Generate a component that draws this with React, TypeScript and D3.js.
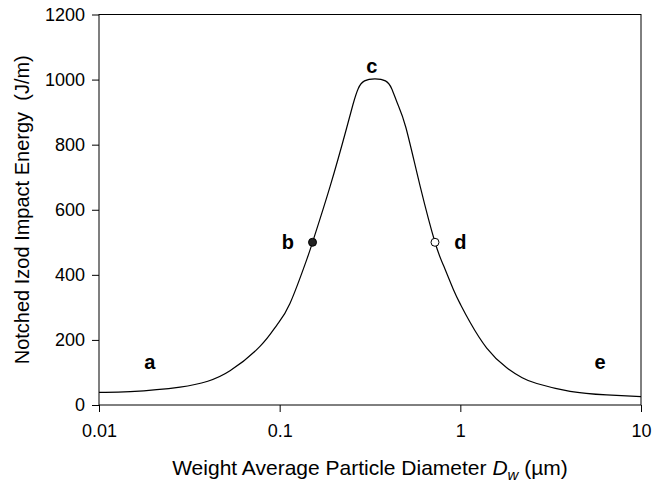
import { useEffect, useRef } from 'react';
import {
  select,
  scaleLog,
  scaleLinear,
  axisLeft,
  axisBottom,
  line,
  curveNatural,
} from 'd3';

// particle diameter (um)
const diameters = [
  0.01, 0.0149, 0.0281, 0.04, 0.0531, 0.0778, 0.0963, 0.114, 0.141, 0.152,
  0.19, 0.235, 0.255, 0.272, 0.295, 0.337, 0.385, 0.417, 0.45, 0.5, 0.6,
  0.724, 0.805, 0.915, 1.0, 1.13, 1.4, 1.8, 2.2, 2.65, 4.05, 6.46, 10,
];
// notched izod impact energy (J/m)
const energies = [
  39, 41, 55, 73, 105, 180, 245, 312, 446, 500, 671, 852, 925, 972, 996, 1002,
  996, 972, 925, 852, 671, 500, 430, 355, 310, 255, 175, 115, 84, 66, 42, 31,
  26,
];

const markedPoints = [
  { x: 0.152, y: 500, filled: true },
  { x: 0.724, y: 500, filled: false },
];

const letterLabels = [
  { text: 'a', x: 0.0191, y: 132 },
  { text: 'b', x: 0.111, y: 500 },
  { text: 'c', x: 0.324, y: 1042 },
  { text: 'd', x: 1.0, y: 500 },
  { text: 'e', x: 5.93, y: 132 },
];

const xTicks = [0.01, 0.1, 1, 10];
const yTicks = [0, 200, 400, 600, 800, 1000, 1200];

const W = 654;
const H = 483;
const margin = { top: 14.5, right: 13, bottom: 78, left: 99 };
const font = 'Liberation Sans, Arial, sans-serif';

const App = () => {
  const svgRef = useRef<SVGSVGElement>(null);

  useEffect(() => {
    if (!svgRef.current) return;
    const svg = select(svgRef.current);
    svg.selectAll('*').remove();

    const x = scaleLog()
      .domain([0.01, 10])
      .range([margin.left, W - margin.right]);
    const y = scaleLinear()
      .domain([0, 1200])
      .range([H - margin.bottom, margin.top]);

    // frame
    svg
      .append('rect')
      .attr('x', x(0.01))
      .attr('y', y(1200))
      .attr('width', x(10) - x(0.01))
      .attr('height', y(0) - y(1200))
      .attr('fill', 'none')
      .attr('stroke', '#000')
      .attr('stroke-width', 1);

    const gx = svg
      .append('g')
      .attr('transform', `translate(0,${y(0)})`)
      .call(
        axisBottom(x)
          .tickValues(xTicks)
          .tickFormat((d: any) => String(d))
          .tickSize(7)
          .tickSizeOuter(0)
          .tickPadding(12),
      );
    gx.select('.domain').remove();
    gx.selectAll('text')
      .attr('font-family', font)
      .attr('font-size', 18)
      .attr('fill', '#000');

    const gy = svg
      .append('g')
      .attr('transform', `translate(${x(0.01)},0)`)
      .call(
        axisLeft(y)
          .tickValues(yTicks)
          .tickFormat((d: any) => String(d))
          .tickSize(7)
          .tickSizeOuter(0)
          .tickPadding(7),
      );
    gy.select('.domain').remove();
    gy.selectAll('text')
      .attr('font-family', font)
      .attr('font-size', 18)
      .attr('fill', '#000');

    const path = line<number>()
      .x((d) => x(d))
      .y((_, i) => y(energies[i]))
      .curve(curveNatural);

    svg
      .append('path')
      .attr('d', path(diameters))
      .attr('fill', 'none')
      .attr('stroke', '#000')
      .attr('stroke-width', 1.2);

    svg
      .selectAll('circle.pt')
      .data(markedPoints)
      .join('circle')
      .attr('class', 'pt')
      .attr('cx', (d) => x(d.x))
      .attr('cy', (d) => y(d.y))
      .attr('r', 4)
      .attr('fill', (d) => (d.filled ? '#222' : '#fff'))
      .attr('stroke', '#000')
      .attr('stroke-width', 1);

    svg
      .selectAll('text.lbl')
      .data(letterLabels)
      .join('text')
      .attr('class', 'lbl')
      .attr('x', (d) => x(d.x))
      .attr('y', (d) => y(d.y))
      .attr('dy', '0.35em')
      .attr('text-anchor', 'middle')
      .attr('font-family', font)
      .attr('font-weight', 'bold')
      .attr('font-size', 20)
      .text((d) => d.text);

    // axis titles
    svg
      .append('text')
      .attr('transform', `translate(22,${(y(0) + y(1200)) / 2}) rotate(-90)`)
      .attr('text-anchor', 'middle')
      .attr('dy', '0.35em')
      .attr('font-family', font)
      .attr('font-size', 20)
      .attr('xml:space', 'preserve')
      .text('Notched Izod Impact Energy  (J/m)');

    const xt = svg
      .append('text')
      .attr('x', (x(0.01) + x(10)) / 2)
      .attr('y', 475)
      .attr('text-anchor', 'middle')
      .attr('font-family', font)
      .attr('font-size', 21);
    xt.append('tspan').text('Weight Average Particle Diameter ');
    xt.append('tspan').attr('font-style', 'italic').text('D');
    xt.append('tspan')
      .attr('font-style', 'italic')
      .attr('font-size', 15)
      .attr('dy', 5)
      .text('w');
    xt.append('tspan').attr('dy', -5).text(' (\u00b5m)');
  }, []);

  return (
    <div style={{ position: 'absolute', left: 0, top: 0 }}>
      <svg ref={svgRef} width={W} height={H} style={{ display: 'block', background: '#fff' }} />
    </div>
  );
};

export default App;
